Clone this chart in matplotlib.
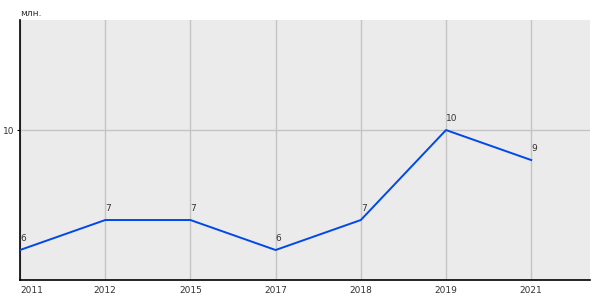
import matplotlib
matplotlib.use('Agg')
import matplotlib.pyplot as plt

years = ['2011', '2012', '2015', '2017', '2018', '2019', '2021']
values = [6, 7, 7, 6, 7, 10, 9]

fig = plt.figure(figsize=(6, 3), dpi=100)
ax = fig.add_axes([20/600, 20/300, 570/600, 260/300])
ax.set_facecolor('#ebebeb')

x = list(range(len(years)))
ax.plot(x, values, color='#0048e8', lw=1.4, zorder=3)

for xi, v in zip(x, values):
    ax.annotate(str(v), (xi, v), xytext=(0, 5), textcoords='offset points',
                ha='left', va='bottom', fontsize=6.5, color='#333333')

ax.set_xlim(0, 6.69)
ax.set_ylim(5, 13.67)
ax.set_xticks(x)
ax.set_xticklabels(years, fontsize=6.5, color='#333333')
ax.get_xticklabels()[0].set_ha('left')
ax.set_yticks([10])
ax.set_yticklabels(['10'], fontsize=6.5, color='#333333')
ax.tick_params(axis='x', length=0, pad=4)
ax.tick_params(axis='y', length=2.2, pad=2)
ax.grid(True, color='#c4c4c4', lw=1)
ax.set_axisbelow(True)

for s in ['top', 'right']:
    ax.spines[s].set_visible(False)
ax.spines['left'].set_linewidth(1.2)
ax.spines['bottom'].set_linewidth(1.2)

fig.text(20/600, 1 - 13/300, 'млн.', fontsize=6.5, ha='left', va='center', color='#333333')

fig.savefig('out.png', dpi=100)
